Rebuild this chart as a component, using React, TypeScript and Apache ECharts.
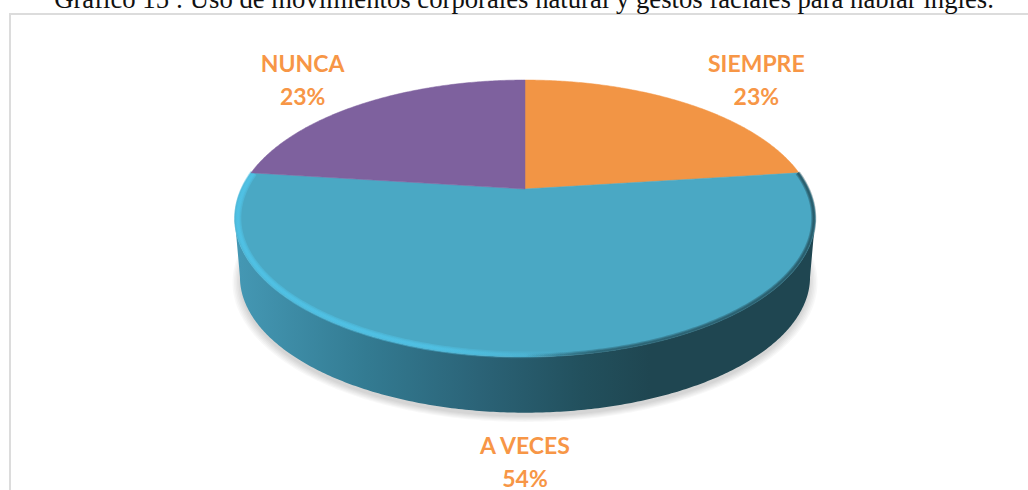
import React, { useEffect, useRef } from "react";
import * as echarts from "echarts";

const titleText = "Gráfico 15 : Uso de movimientos corporales natural y gestos faciales para hablar inglés.";
const categories = ["SIEMPRE", "A VECES", "NUNCA"];
const values = [23, 54, 23];
const topColors = ["#f29545", "#4aa8c4", "#7e619e"];
const labelColor = "#f79646";

// Perspective projection of the tilted disc
const CX = 525;
const APEX_Y = 189;
const K = 0.213;
const TOP_A = 283.6;
const TOP_B = 132.2;
const BASE_A = 278.5;
const BASE_B = 129.6;
const BASE_Y = 248;
const HORIZON = Math.acos(-K);
const SHADOW_LAYERS = [1.0, 1.005, 1.01, 1.015, 1.02, 1.025];

const total = values.reduce((a, b) => a + b, 0);

function project(theta: number, a: number, b: number, y0: number, r = 1): [number, number] {
  const u = Math.sin(theta) * r;
  const v = Math.cos(theta) * r;
  const w = 1 + K * v;
  return [CX + (a * u) / w, y0 - (b * v) / w];
}

function arc(t0: number, t1: number, a: number, b: number, y0: number, r = 1): [number, number][] {
  const n = Math.max(2, Math.ceil(Math.abs(t1 - t0) / 0.01));
  const pts: [number, number][] = [];
  for (let i = 0; i <= n; i++) pts.push(project(t0 + ((t1 - t0) * i) / n, a, b, y0, r));
  return pts;
}

function lightGradient() {
  return new echarts.graphic.LinearGradient(
    234, 0, 816, 0,
    [
      { offset: 0, color: "rgba(80,196,232,0.5)" },
      { offset: 0.35, color: "rgba(80,196,232,0.45)" },
      { offset: 0.5, color: "rgba(80,196,232,0.15)" },
      { offset: 0.58, color: "rgba(80,196,232,0)" },
      { offset: 1, color: "rgba(80,196,232,0)" },
    ],
    true
  );
}

function darkGradient() {
  return new echarts.graphic.LinearGradient(
    234, 0, 816, 0,
    [
      { offset: 0, color: "rgba(31,70,81,0)" },
      { offset: 0.5, color: "rgba(31,70,81,0)" },
      { offset: 0.62, color: "rgba(31,70,81,0.3)" },
      { offset: 1, color: "rgba(31,70,81,0.38)" },
    ],
    true
  );
}

function renderSlice(params: any, api: any) {
  const idx = params.dataIndex;
  const before = values.slice(0, idx).reduce((a, b) => a + b, 0);
  const t0 = (before / total) * Math.PI * 2;
  const t1 = ((before + api.value(0)) / total) * Math.PI * 2;
  const children: any[] = [];

  const wa = Math.max(t0, HORIZON);
  const wb = Math.min(t1, Math.PI * 2 - HORIZON);
  const front = wb > wa;
  if (front) {
    SHADOW_LAYERS.forEach((r) => {
      children.push({
        type: "polygon",
        shape: { points: arc(wa - 0.25, wb + 0.25, BASE_A, BASE_B, BASE_Y + 4, r) },
        style: { fill: "rgba(0,0,0,0.028)" },
      });
    });
    const wallPts = [...arc(wa, wb, TOP_A, TOP_B, APEX_Y), ...arc(wb, wa, BASE_A, BASE_B, BASE_Y)];
    children.push({
      type: "polygon",
      shape: { points: wallPts },
      style: {
        fill: new echarts.graphic.LinearGradient(
          240, 0, 810, 0,
          [
            { offset: 0, color: "#4497b3" },
            { offset: 0.22, color: "#337b92" },
            { offset: 0.42, color: "#2b6377" },
            { offset: 0.6, color: "#22505d" },
            { offset: 0.72, color: "#1f4651" },
            { offset: 1, color: "#1f4651" },
          ],
          true
        ),
      },
    });
  }

  const topPts = [[CX, APEX_Y], ...arc(t0, t1, TOP_A, TOP_B, APEX_Y)];
  children.push({
    type: "polygon",
    shape: { points: topPts },
    style: { fill: topColors[idx], stroke: topColors[idx], lineWidth: 0.5 },
  });

  if (front) {
    [7, 4.5, 2.5].forEach((w) => {
      children.push({
        type: "polyline",
        shape: { points: arc(t0, t1, TOP_A, TOP_B, APEX_Y, 0.99) },
        style: { fill: "none", lineWidth: w, stroke: lightGradient() },
      });
    });
    [5, 3, 1.5].forEach((w) => {
      children.push({
        type: "polyline",
        shape: { points: arc(t0, t1, TOP_A, TOP_B, APEX_Y, 0.995) },
        style: { fill: "none", lineWidth: w, stroke: darkGradient() },
      });
    });
  }

  const mid = (t0 + t1) / 2;
  const s = Math.sin(mid);
  children.push({
    type: "text",
    style: {
      text: `${categories[idx]}\n${api.value(0)}%`,
      x: CX + 343 * s + 6.8 * Math.abs(s),
      y: 243 - 218 * Math.cos(mid),
      fill: labelColor,
      font: 'bold 23px Lato, "Open Sans", sans-serif',
      align: "center",
      verticalAlign: "middle",
      lineHeight: 33,
    },
  });

  return { type: "group", children };
}

export default function App() {
  const ref = useRef<HTMLDivElement>(null);
  useEffect(() => {
    document.body.style.margin = "0";
    const chart = echarts.init(ref.current!, undefined, { renderer: "svg" });
    chart.setOption({
      animation: false,
      backgroundColor: "#ffffff",
      title: {
        text: titleText,
        left: 524,
        textAlign: "center",
        top: -15,
        padding: 0,
        textStyle: {
          fontFamily: '"Liberation Serif", serif',
          fontSize: 26.7,
          fontWeight: "normal",
          color: "#111111",
        },
      },
      graphic: [
        {
          type: "polyline",
          shape: { points: [[10, 490], [10, 14], [1028, 14]] },
          style: { fill: "none", stroke: "#dcdcdc", lineWidth: 2 },
        },
      ],
      series: [
        {
          type: "custom",
          coordinateSystem: "none",
          renderItem: renderSlice,
          data: values.map((v, i) => ({ name: categories[i], value: [v] })),
        },
      ],
    });
    return () => chart.dispose();
  }, []);
  return <div ref={ref} style={{ position: "fixed", left: 0, top: 0, width: 1028, height: 490 }} />;
}
